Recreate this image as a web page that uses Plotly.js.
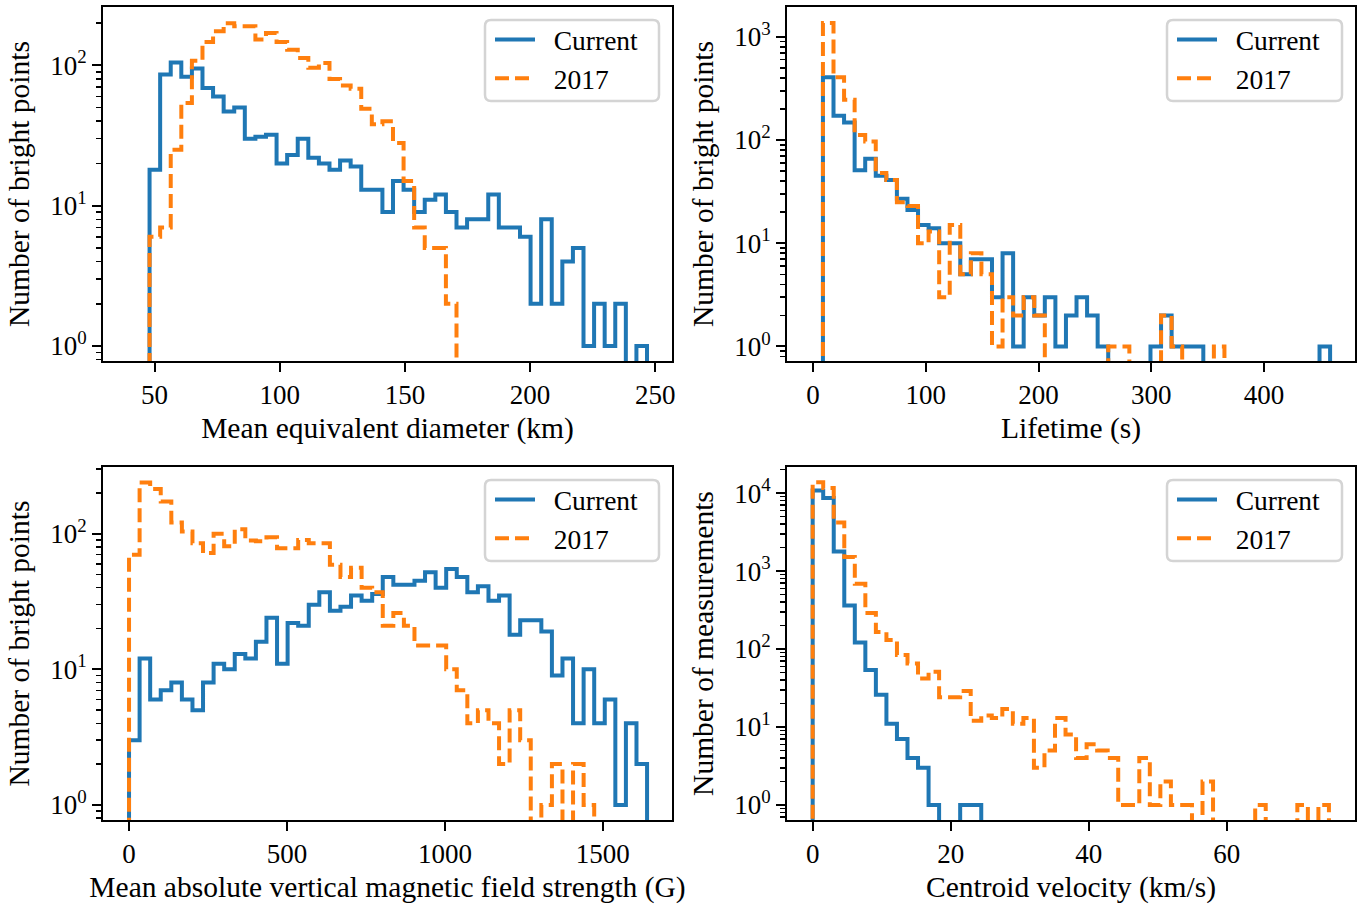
<!DOCTYPE html>
<html>
<head>
<meta charset="utf-8">
<script src="https://cdn.plot.ly/plotly-3.0.1.min.js"></script>
<style>
  html, body { margin: 0; padding: 0; background: #ffffff; }
  #chart { width: 1371px; height: 904px; }
</style>
</head>
<body>
<div id="chart"></div>
<script>
// ---------------- DATA ----------------
const seriesNames = ["Current", "2017"];

// Panel 1: mean equivalent diameter (km)
const diamBinStart = 48.0;
const diamBinWidth = 4.228;
const diamCurrent = [18,86,105,83,95,69,60,47,50,30,31,32,20,23,30,22,20,18,21,19,13,13,9,15,13,9,11,12,9,7,8,8,12,7,7,6,2,8,2,4,5,1,2,1,2,0,1];
const diam2017   = [6,7,25,54,108,147,175,200,190,190,153,170,147,129,113,96,104,80,72,68,49,38,40,28,15,7,5,5,2];

// Panel 2: lifetime (s)
const lifeBinStart = 8.86;
const lifeBinWidth = 9.368;
const lifeCurrent = [406,172,148,51,66,45,41,27,21,15,14,10,10,5,7,7,3,8,1,3,2,3,1,2,3,2,1,0,0,0,0,1,2,1,1,1,0,0,0,0,0,0,0,0,0,0,0,1];
const life2017   = [1360,405,246,112,97,48,41,25,23,10,13,3,15,5,8,5,1,3,2,3,2,0,0,0,0,0,0,1,1,0,0,0,2,1,0,0,0,1];

// Panel 3: mean absolute vertical magnetic field strength (G)
const fieldBinStart = 0;
const fieldBinWidth = 33.47;
const fieldCurrent = [3,12,6,7,8,6,5,8,11,10,13,12,16,24,11,22,21,30,37,27,29,35,32,36,48,42,42,45,52,40,55,48,37,41,32,35,18,23,23,19,9,12,4,10,4,6,1,4,2];
const field2017   = [70,239,214,173,121,104,85,72,100,81,108,89,88,94,78,78,90,85,85,59,48,56,40,37,21,26,21,15,15,15,10,7,4,5,4,2,5,3,0,1,2,0,2,1];

// Panel 4: centroid velocity (km/s)
const velBinStart = 0;
const velBinWidth = 1.527;
const velCurrent = [10840,8650,1786,362,121,54,26,11,7,4,3,1,0,0,1,1];
const vel2017   = [13740,11620,4210,1511,687,289,165,131,84,65,42,51,24,24,29,12,14,13,17,11,13,3,5,13,8,4,6,5,4,1,1,4,1,2,1,1,0,2,0,0,0,0,1,0,0,0,1,0,1];

// Tick labels
const diamTicks  = [50, 100, 150, 200, 250];
const lifeTicks  = [0, 100, 200, 300, 400];
const fieldTicks = [0, 500, 1000, 1500];
const velTicks   = [0, 20, 40, 60];

const xTitles = ["Mean equivalent diameter (km)", "Lifetime (s)",
                 "Mean absolute vertical magnetic field strength (G)", "Centroid velocity (km/s)"];
const yTitles = ["Number of bright points", "Number of bright points",
                 "Number of bright points", "Number of measurements"];

// ---------------- BUILD ----------------
const W = 1371, H = 904;
const FLOOR = 1e-3; // below every axis range: empty bins drop to the axis bottom
const BLUE = "#1f77b4", ORANGE = "#ff7f0e";
const FONT = "Liberation Serif";
const FS_TICK = 27, FS_TITLE = 29.5, FS_LEG = 27.5;

function stepLine(start, width, counts) {
  const xs = [start], ys = [FLOOR];
  for (let i = 0; i < counts.length; i++) {
    const c = counts[i] > 0 ? counts[i] : FLOOR;
    xs.push(start + i * width, start + (i + 1) * width);
    ys.push(c, c);
  }
  xs.push(start + counts.length * width);
  ys.push(FLOOR);
  return { xs, ys };
}

const panels = [
  { start: diamBinStart, width: diamBinWidth, cur: diamCurrent, old: diam2017, ticks: diamTicks,
    xr: [29.4, 256.7], yr: [-0.107, 2.416], maxDec: 2 },
  { start: lifeBinStart, width: lifeBinWidth, cur: lifeCurrent, old: life2017, ticks: lifeTicks,
    xr: [-23.0, 480.6], yr: [-0.141, 3.289], maxDec: 3 },
  { start: fieldBinStart, width: fieldBinWidth, cur: fieldCurrent, old: field2017, ticks: fieldTicks,
    xr: [-82.4, 1719], yr: [-0.111, 2.492], maxDec: 2 },
  { start: velBinStart, width: velBinWidth, cur: velCurrent, old: vel2017, ticks: velTicks,
    xr: [-3.72, 78.6], yr: [-0.193, 4.335], maxDec: 4 }
];

// pixel boxes of the four axes
const boxes = [
  { l: 103, r: 672, t: 7, b: 361 },
  { l: 787, r: 1355, t: 7, b: 361 },
  { l: 103, r: 672, t: 467, b: 820 },
  { l: 787, r: 1355, t: 467, b: 820 }
];
const legendBoxes = [
  { l: 485, r: 659, t: 20, b: 101 },
  { l: 1167, r: 1342, t: 20, b: 101 },
  { l: 485, r: 659, t: 480, b: 561 },
  { l: 1167, r: 1342, t: 480, b: 561 }
];

const minorVals = [];
for (let d = -1; d <= 4; d++) for (let k = 2; k <= 9; k++) minorVals.push(k * Math.pow(10, d));

const traces = [];
const layout = {
  width: W, height: H,
  margin: { l: 0, r: 0, t: 0, b: 0 },
  paper_bgcolor: "#ffffff",
  plot_bgcolor: "#ffffff",
  font: { family: FONT, size: FS_TICK, color: "#000000" },
  showlegend: true,
  shapes: []
};

panels.forEach((p, i) => {
  const n = i === 0 ? "" : String(i + 1);
  const xa = "x" + n, ya = "y" + n;
  const leg = "legend" + n;
  const a = stepLine(p.start, p.width, p.cur);
  const b = stepLine(p.start, p.width, p.old);
  traces.push({
    type: "scatter", mode: "lines", x: a.xs, y: a.ys, xaxis: xa, yaxis: ya,
    name: "&nbsp;&nbsp;" + seriesNames[0], legend: leg,
    line: { color: BLUE, width: 4, shape: "linear" }, hoverinfo: "skip"
  });
  traces.push({
    type: "scatter", mode: "lines", x: b.xs, y: b.ys, xaxis: xa, yaxis: ya,
    name: "&nbsp;&nbsp;" + seriesNames[1], legend: leg,
    line: { color: ORANGE, width: 4, dash: "14px,6px", shape: "linear" }, hoverinfo: "skip"
  });

  const bx = boxes[i];
  const majorVals = [], majorText = [];
  for (let d = 0; d <= p.maxDec; d++) { majorVals.push(Math.pow(10, d)); majorText.push("10<sup>" + d + "</sup>"); }

  layout["xaxis" + n] = {
    domain: [bx.l / W, bx.r / W], anchor: ya, range: p.xr,
    showline: true, mirror: true, linecolor: "#000", linewidth: 2,
    ticks: "outside", ticklen: 9, tickwidth: 2, tickcolor: "#000",
    tickmode: "array", tickvals: p.ticks, ticktext: p.ticks.map(String),
    showgrid: false, zeroline: false, fixedrange: true,
    tickfont: { family: FONT, size: FS_TICK, color: "#000" },
    title: { text: xTitles[i], font: { family: FONT, size: FS_TITLE, color: "#000" }, standoff: 8 }
  };
  layout["yaxis" + n] = {
    domain: [1 - bx.b / H, 1 - bx.t / H], anchor: xa, type: "log", range: p.yr,
    showline: true, mirror: true, linecolor: "#000", linewidth: 2,
    ticks: "outside", ticklen: 9, tickwidth: 2, tickcolor: "#000",
    tickmode: "array", tickvals: majorVals, ticktext: majorText,
    minor: { tickmode: "array", tickvals: minorVals, ticks: "outside", ticklen: 5, tickwidth: 1.5, tickcolor: "#000", showgrid: false },
    showgrid: false, zeroline: false, fixedrange: true,
    tickfont: { family: FONT, size: FS_TICK, color: "#000" },
    title: { text: yTitles[i], font: { family: FONT, size: FS_TITLE, color: "#000" }, standoff: 12 }
  };

  const lb = legendBoxes[i];
  const rx = 6 / W, ry = 6 / H;
  const x0 = lb.l / W, x1 = lb.r / W, y0 = 1 - lb.b / H, y1 = 1 - lb.t / H;
  layout.shapes.push({
    type: "path", xref: "paper", yref: "paper", layer: "above",
    path: `M ${x0 + rx},${y0} L ${x1 - rx},${y0} Q ${x1},${y0} ${x1},${y0 + ry} L ${x1},${y1 - ry} Q ${x1},${y1} ${x1 - rx},${y1} L ${x0 + rx},${y1} Q ${x0},${y1} ${x0},${y1 - ry} L ${x0},${y0 + ry} Q ${x0},${y0} ${x0 + rx},${y0} Z`,
    line: { color: "#d4d4d4", width: 2.5 }, fillcolor: "rgba(255,255,255,0.8)"
  });
  layout[leg] = {
    x: (lb.l + 5) / W, y: 1 - (lb.t - 5) / H, xanchor: "left", yanchor: "top",
    xref: "paper", yref: "paper",
    bgcolor: "rgba(0,0,0,0)", borderwidth: 0,
    font: { family: FONT, size: FS_LEG, color: "#000" },
    itemwidth: 40
  };
});

Plotly.newPlot("chart", traces, layout, { displayModeBar: false, staticPlot: true });
</script>
</body>
</html>
